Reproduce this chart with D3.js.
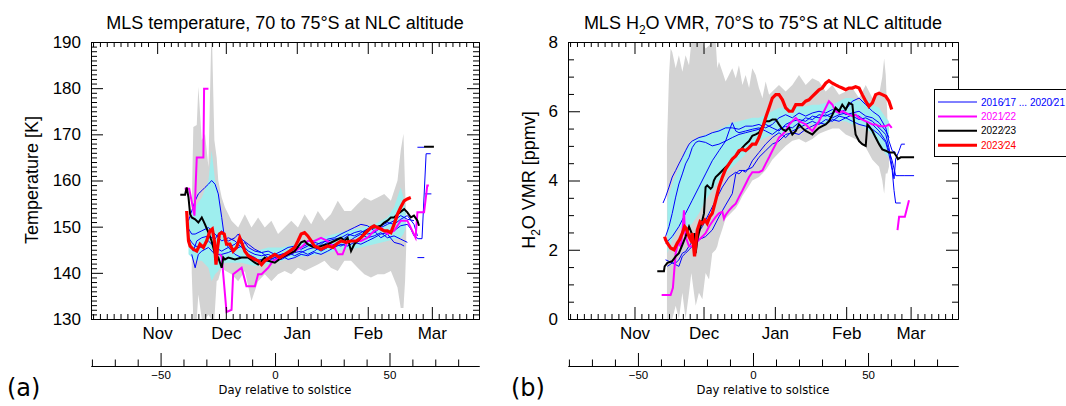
<!DOCTYPE html>
<html>
<head>
<meta charset="utf-8">
<script src="https://cdn.jsdelivr.net/npm/d3@7"></script>
<style>
  body { margin: 0; background: #fff; }
  svg text { font-family: "Liberation Sans", Arial, Helvetica, sans-serif; fill: #000; }
</style>
</head>
<body>
<svg id="canvas"></svg>
<script>
// all x values are days relative to solstice

// ---- panel (a): temperature [K] ----
// envelopes: [day, low, high]
const tGray = [
  [-36.4,140,154],[-35.7,130,171.6],[-34.2,130,172],[-33.5,135.3,180.3],[-32,130,168.7],[-30.6,130,170.1],
  [-29.1,130.9,162.9],[-27.9,130,190],[-27.5,130,190],[-26.5,130,168.7],[-25.5,138.2,165],[-24.8,138.5,160],
  [-23.3,141.1,156.3],[-21.9,140.5,154.2],[-19,139.7,151.3],[-16.1,138.2,149.8],[-13.2,140.4,152.7],
  [-10.3,133.9,149.8],[-7.4,138.2,152],[-4.5,139.7,149.8],[-1.6,138.2,151.3],[1.3,139.7,148.4],
  [4.2,140.4,149.8],[7.1,139.7,151.3],[10,141.1,149.8],[12.9,140.4,152.7],[15.8,141.1,150.5],
  [18.7,141.8,153.4],[21.6,142.6,151.3],[24.4,141.1,152.7],[27.4,140.4,155.6],[30.3,142.6,153.4],
  [33.2,142.6,153.4],[36.1,141.1,154.9],[39,139.7,156.3],[41.9,139,155.6],[44.8,139.7,156.3],
  [47.7,139.7,157.1],[50.6,140.4,155.6],[53.5,136.8,160],[54.9,132.4,166.5],[56.1,132.4,170.1],
  [56.8,138.2,158.5],[57.3,145.5,152]
];
const tCyan = [
  [-37.8,144,151.3],[-34.9,142.6,154.2],[-32,142.6,156.3],[-29.1,141.1,160],[-27.7,138.2,166.5],
  [-26.2,139.7,160],[-24.8,140.4,157.8],[-23.3,141.8,151.3],[-21.9,142.2,147.6],[-20.4,142.2,146.9],
  [-17.5,142.2,146.9],[-14.6,142.2,146.2],[-11.7,141.8,145.5],[-8.8,141.5,144.7],[-3,141.8,145.5],
  [2.8,142.6,145.5],[8.6,143.3,146.2],[14.3,143.7,146.9],[20.1,144,147.6],[25.9,144.7,148.4],
  [31.7,145.1,149.1],[37.5,145.5,149.8],[43.3,146.2,150.5],[49.1,146.9,152],[52,147.3,154.2],
  [54.9,147.6,158.5],[56.1,148.4,156.3],[57.1,149.8,152.7]
];
// lines: [day, value]; null breaks a line
const tBlue = [
  [[-37.8,151.3],[-36.4,153.4],[-34.9,155.6],[-33.5,157.1],[-32,157.8],[-30.6,158.5],[-29.1,159.2],[-27.7,160],
   [-26.2,159.2],[-24.8,157.1],[-23.3,152],[-21.9,146.9],[-20.4,145.5],[-17.5,144],[-14.6,143.3],[-11.7,143.3],
   [-8.8,142.6],[-5.9,142.9],[-3,143.3],[-0.1,143.7],[2.8,144],[5.7,144.4],[8.6,145.1],[11.4,145.5],[14.3,146.2],
   [17.2,145.8],[20.1,146.6],[23,146.9],[25.9,147.3],[28.8,147.6],[31.7,148.4],[34.6,148],[37.5,148.7],
   [40.4,149.5],[43.3,149.8],[46.2,150.2],[49.1,150.9],[52,150.5],[54.9,151.6],[57.8,152.4],[60.7,150.5],[62.2,148]],
  [[-38.6,150.2],[-36.4,148.4],[-34.9,148.4],[-32,149.1],[-29.1,149.8],[-26.2,148.4],[-23.3,146.9],[-20.4,147.6],
   [-17.5,146.9],[-14.6,145.5],[-11.7,144],[-8.8,143.3],[-5.9,142.2],[-3,142.6],[-0.1,143.3],[2.8,142.9],[5.7,143.7],
   [8.6,144.4],[11.4,144.7],[14.3,144],[17.2,144.7],[20.1,145.8],[23,146.6],[25.9,145.8],[28.8,146.9],[31.7,148],
   [34.6,148.7],[37.5,149.1],[40.4,148.4],[43.3,148.7],[46.2,149.8],[49.1,150.5],[52,151.3],[54.9,152.4],
   [57.8,151.6],[60.7,151.3]],
  [[-37.8,147.6],[-36.4,146.6],[-34.9,145.8],[-32,145.5],[-29.1,146.9],[-26.2,145.5],[-23.3,144.7],[-21.9,145.1],
   [-20.4,145.5],[-17.5,146.2],[-16.1,146.9],[-14.6,146.2],[-11.7,144.7],[-8.8,144],[-5.9,143.7],[-3,144],
   [-0.1,143.3],[2.8,144],[5.7,144.4],[8.6,143.7],[11.4,144.4],[14.3,145.1],[17.2,145.5],[20.1,144.7],[23,145.5],
   [25.9,146.2],[28.8,145.8],[31.7,146.6],[34.6,147.6],[37.5,148.4],[40.4,147.6],[43.3,148],[46.2,148.7],
   [49.1,147.6],[52,148],[54.9,147.3],[57.8,146.6]],
  [[-36.4,144],[-34.9,141.1],[-33.5,144],[-32,144.7],[-29.1,145.5],[-26.2,144],[-23.3,144],[-20.4,144.4],
   [-17.5,145.1],[-14.6,145.8],[-13.2,146.6],[-11.7,145.5],[-8.8,144.7],[-5.9,144.4],[-3,143.3],[-0.1,142.9],
   [2.8,143.7],[5.7,142.9],[8.6,143.3],[11.4,144],[14.3,143.7],[17.2,144.4],[20.1,144],[23,144.7],[25.9,145.5],
   [28.8,146.2],[31.7,145.8],[34.6,146.6],[37.5,146.2],[40.4,146.9],[43.3,147.6],[46.2,148.4],[49.1,148.7],
   [52,149.1],[54.9,150.2],[57.8,150.5],[59.3,149.5],[60.7,148],[62.5,147.4],[64.2,147.4],[66,165.8],[68,165.8]],
  [[-37.1,146.2],[-35.7,144.7],[-34.2,146.9],[-32,147.6],[-29.1,148],[-26.2,147.3],[-24.8,148.4],[-23.3,149.1],
   [-21.9,147.6],[-20.4,146.9],[-17.5,147.6],[-16.1,148.4],[-14.6,147.3],[-11.7,146.2],[-8.8,145.1],[-5.9,144.4],
   [-3,144.7],[-0.1,144],[2.8,144.7],[5.7,145.5],[8.6,145.8],[11.4,145.1],[14.3,145.8],[17.2,146.6],[20.1,146.2],
   [23,147.3],[25.9,147.6],[28.8,148.4],[31.7,149.1],[34.6,149.8],[37.5,150.5],[40.4,150.2],[43.3,149.1],
   [46.2,147.6],[49.1,148.4],[52,146.6],[54.9,146.2],[56.4,145.8]],
  [[62.2,167.2],[65.2,167.2],null,[62.2,143.3],[65.2,143.3],null,[65.5,157.1],[68.3,157.1]]
];
const tMag = [
  [-39.5,158.2],[-37.5,158.2],[-35.2,152.4],[-34.2,165],[-31.3,165],[-31,179.9],[-29.1,179.9],null,
  [-24.1,144],[-23.3,143.5],[-21.2,131.5],[-19,132],[-18.3,139.7],[-14.6,141.1],[-12.5,137.1],[-8.8,137.1],
  [-7.4,139.7],[-5.9,139.7],[-3,141.1],[-0.9,142.6],[2.8,143.3],[5.7,144],[8.6,144.7],[11.4,145.5],[14.3,146.9],
  [17.2,146.9],[20.1,147.6],[23,146.9],[25.9,145.5],[27.5,144],[29.5,144],[31.7,146.9],[34.6,146.9],[37.5,146.9],
  [40.4,147.6],[43.3,149.1],[46.2,149.8],[49.1,148.4],[52,149.1],[54.9,151.3],[57.8,151.3],[61.4,147.6],
  [62.2,153.1],[65.1,153.1],[66.5,158.9],[67.2,158.9]
];
const tBlack = [
  [-41.4,156.9],[-39.3,156.9],[-38.6,158.5],[-37.8,156.3],[-37.1,152.7],[-36.4,152],[-34.9,151.6],[-33.5,150.9],
  [-32,152],[-30.6,150.5],[-29.1,148.7],[-27.7,146.9],[-26.2,144],[-24.8,143.3],[-23.3,141.1],[-22.6,143.3],
  [-21.9,142.9],[-20.4,143.3],[-17.5,142.9],[-14.6,143.3],[-11.7,143.3],[-8.8,142.2],[-7.4,141.8],[-5.9,142.6],
  [-4.5,143.3],[-3,142.6],[-0.1,142.2],[2.8,143.3],[5.7,144],[8.6,144.7],[11.4,146.6],[12.9,146.9],[14.3,146.2],
  [15.8,145.8],[17.2,145.5],[20.1,145.8],[23,146.2],[25.9,146.9],[28.8,147.6],[30.3,146.9],[31.7,147.6],
  [33.2,144.7],[34.6,146.2],[37.5,147.6],[39,148.7],[41.9,149.8],[43.3,149.8],[46.2,150.2],[47.7,150.9],
  [49.1,151.3],[50.6,152],[52,152],[53.5,152.7],[56.4,153.8],[57.8,153.1],[59.3,152],[60.7,152.4],[62.2,151.3],
  [62.9,150.2],null,[65.1,167.3],[69.4,167.3]
];
const tRed = [
  [-38.6,153.4],[-38.2,149.8],[-37.8,146.9],[-37.1,145.8],[-35.7,145.1],[-34.2,144.7],[-32.8,146.2],[-31.3,145.5],
  [-29.9,146.9],[-28.4,149.1],[-27.4,149.5],[-26.5,146.9],[-25.8,141.8],[-25.1,145.5],[-24.3,148.4],[-23.3,148.7],
  [-22.2,148.4],[-21.2,146.2],[-19.7,146.2],[-18.3,144.7],[-16.8,145.5],[-15.4,147.6],[-14.3,146.2],[-13.2,144.7],
  [-11.7,143.7],[-10.3,143.3],[-8.8,142.9],[-7.4,142.6],[-5.9,141.8],[-4.5,142.6],[-2.3,143.3],[-0.1,144],
  [2,143.3],[4.2,144],[6.4,144.7],[8.6,145.5],[10,146.9],[11.4,148.4],[12.9,148.7],[14.3,148],[15.8,146.9],
  [17.2,145.8],[18.7,145.5],[20.1,145.1],[21.6,145.5],[23,145.8],[25.2,145.5],[26.7,146.2],[28.8,146.9],
  [31,146.6],[33.2,146.9],[35.4,146.9],[37.5,147.6],[39.7,148.7],[41.9,149.8],[43.3,150.2],[44.8,149.8],
  [46.2,149.5],[47.7,149.1],[49.1,149.1],[50.6,148.7],[52,150.5],[53.5,152.7],[54.9,154.2],[56.4,155.6],
  [57.8,156],[59.3,156.3]
];

// ---- panel (b): H2O VMR [ppmv] ----
const hGray = [
  [-37.4,0,5],[-36.5,0,7.05],[-35.8,0,7.81],[-35.1,0,7.71],[-33.6,0.38,7.24],[-32.2,0,7.62],[-30.7,0.76,7.14],
  [-29.3,0,7.62],[-27.8,0.76,7.33],[-26.8,1.33,8],[-24.9,0.38,8],[-23.5,0.76,8],[-22,0.57,8],[-20.6,1.33,7.81],
  [-19.1,1.14,7.9],[-17.7,1.9,8],[-16.2,2,8],[-15.5,2.1,7.24],[-14.8,2.3,7.43],[-13.3,2.6,7.14],[-11.9,2.9,6.86],
  [-9,3.1,7.24],[-7.5,3.2,6.95],[-6.1,3.35,7.33],[-4.6,3.55,6.76],[-3.2,3.7,7.05],[-1.7,3.85,6.67],[-0.3,4,7.24],
  [1.2,4.05,7.05],[2.6,4.1,6.67],[4.1,4.2,6.38],[5.5,4.3,6.86],[7,4.45,6.48],[8.4,4.6,6.57],[11.3,4.8,6.76],
  [14.2,5,6.57],[17.1,5.15,6.76],[20,5.2,7.05],[22.9,5.1,6.76],[25.8,5.2,6.95],[28.7,5.35,6.86],[31.6,5.43,6.57],
  [34.5,5.5,6.76],[37.4,5.5,6.48],[40.3,5.33,6.57],[43.2,5.24,6.67],[46.1,5.14,6.38],[49,4.95,6.76],
  [51.9,4.6,6.38],[54.8,4.4,6.48],[56.2,4,7],[57,3.62,7.52],[57.7,4.2,7.05],[58.4,4.2,5.8],[59.1,4.4,5]
];
const hCyan = [
  [-37.2,1.9,3.43],[-35.1,2.29,3.9],[-32.2,2.67,4.38],[-29.3,2.57,4.86],[-26.4,2.76,5.14],[-23.5,3.05,5.24],
  [-20.6,3.43,5.33],[-17.7,3.71,5.38],[-14.8,4,5.48],[-11.9,4.19,5.57],[-9,4.38,5.67],[-6.1,4.57,5.71],
  [-3.2,4.76,5.76],[-0.3,4.95,5.81],[2.6,5.14,5.81],[5.5,5.24,5.9],[8.4,5.33,6],[11.3,5.33,6.1],[14.2,5.43,6.1],
  [17.1,5.43,6.1],[20,5.52,6.14],[22.9,5.62,6.14],[25.8,5.62,6.19],[28.7,5.62,6.19],[31.6,5.62,6.24],
  [34.5,5.71,6.19],[37.4,5.71,6.29],[40.3,5.71,6.38],[43.2,5.62,6.38],[46.1,5.62,6.29],[49,5.52,6.38],
  [51.9,5.33,6.19],[54.8,5.05,6.1],[57.7,4.76,5.81],[59.1,4.67,5.71]
];
const hBlue = [
  [[-39.1,3.35],[-38,3.52],[-36.5,3.81],[-35.1,4.1],[-33.6,4.29],[-32.2,4.48],[-30.7,4.67],[-29.3,4.86],[-27.8,5.05],
   [-26.4,5.14],[-23.5,5.24],[-20.6,5.29],[-17.7,5.38],[-14.8,5.43],[-11.9,5.52],[-9,5.52],[-6.1,5.48],[-3.2,5.57],
   [-0.3,5.57],[2.6,5.62],[5.5,5.52],[8.4,5.62],[11.3,5.81],[14.2,5.9],[17.1,5.81],[20,5.95],[22.9,5.86],
   [25.8,5.95],[28.7,6],[31.6,5.95],[34.5,6.05],[37.4,5.95],[40.3,6.05],[43.2,6.29],[46.1,6.38],[49,6.19],
   [51.9,6],[54.8,5.86],[57.7,5.52],[59.1,5.14],[60.5,4.86],[62,4.81]],
  [[-38,2.38],[-36.5,2.67],[-35.1,3.05],[-33.6,3.52],[-32.2,3.9],[-30.7,4.19],[-29.3,4.48],[-27.8,4.67],[-26.4,4.95],
   [-24.9,5.1],[-23.5,5.14],[-20.6,5.1],[-17.7,5],[-14.8,5.05],[-11.9,5.14],[-9,5.24],[-6.1,5.33],[-3.2,5.38],
   [-0.3,5.43],[2.6,5.48],[5.5,5.62],[8.4,5.52],[11.3,5.43],[14.2,5.62],[17.1,5.71],[20,5.76],[22.9,5.71],
   [25.8,5.86],[28.7,5.81],[31.6,5.9],[34.5,5.81],[37.4,5.9],[40.3,5.95],[43.2,5.86],[46.1,5.76],[49,5.81],
   [51.9,5.71],[54.8,5.52],[57.7,5.33],[59.1,4.95],[60.5,4.38],[61.3,4.05],[62,4.62],[63.5,4.86],[64.5,5.05],[66,5.05]],
  [[-38,2.19],[-35.1,2.38],[-32.2,2.67],[-29.3,3.05],[-26.4,3.43],[-23.5,3.81],[-20.6,4.19],[-17.7,4.57],
   [-14.8,4.86],[-11.9,5.14],[-10.4,5.43],[-9,5.67],[-7.5,5.43],[-6.1,5.38],[-3.2,5.43],[-0.3,5.48],[2.6,5.52],
   [5.5,5.43],[8.4,5.33],[11.3,5.48],[14.2,5.57],[17.1,5.52],[20,5.67],[22.9,5.81],[25.8,5.76],[28.7,5.9],
   [31.6,5.86],[34.5,5.95],[37.4,6.05],[40.3,5.9],[43.2,5.95],[46.1,6],[49,5.86],[51.9,5.81],[54.8,5.67],
   [57.7,5.43],[59.1,5.24]],
  [[-38,1.71],[-35.1,1.62],[-33.6,1.62],[-32.2,1.71],[-30.7,1.9],[-29.3,1.95],[-27.8,2.1],[-24.9,2.38],[-22,2.67],
   [-19.1,3.05],[-16.2,3.43],[-13.3,3.81],[-10.4,4.1],[-7.5,4.24],[-6.1,4.19],[-4.6,4.29],[-3.2,4.24],[-1.7,4.38],
   [-0.3,4.57],[2.6,4.81],[5.5,5.05],[8.4,5.24],[11.3,5.38],[14.2,5.24],[17.1,5.43],[20,5.52],[22.9,5.62],
   [25.8,5.71],[28.7,5.62],[31.6,5.76],[34.5,5.71],[37.4,5.86],[40.3,5.81],[43.2,5.71],[46.1,5.62],[49,5.57],
   [51.9,5.48],[54.8,5.33],[57.7,5.1],[59.1,4.76],[60.5,4.29],[61.3,3.71],[62,3.35],[64.2,3.35]],
  [[-37.2,1.52],[-35.1,1.62],[-32.2,1.52],[-30.7,1.81],[-29.3,1.9],[-27.8,2],[-26.4,2.1],[-23.5,2.29],[-20.6,2.38],
   [-17.7,2.57],[-14.8,2.95],[-11.9,3.29],[-9,3.62],[-7.5,4.19],[-6.1,4.29],[-3.2,4.29],[-0.3,4.38],[2.6,4.67],
   [5.5,4.86],[8.4,5.05],[11.3,5.14],[14.2,5.33],[17.1,5.38],[20,5.33],[22.9,5.48],[25.8,5.57],[28.7,5.67],
   [31.6,5.62],[34.5,5.76],[37.4,5.71],[40.3,5.81],[43.2,5.9],[46.1,5.86],[49,5.71],[51.9,5.62],[54.8,5.43],
   [57.7,5.14],[59.1,4.86],[60.5,4.57],[62,4.14],[63.5,4.14],[66,4.14],[70,4.14]]
];
const hMag = [
  [-39.7,0.69],[-35.8,0.69],[-34.8,0.9],[-34.3,1.33],[-33.6,1.9],[-32.9,2.1],[-32.2,2.19],[-31.4,2.1],[-30.7,2.48],
  [-30,3.14],[-29.7,2.67],[-29.3,2.38],[-27.8,2.1],[-26.4,2.1],[-24.9,2.19],[-23.5,2.29],[-22,2.38],[-20.6,2.48],
  [-19.1,2.67],[-17.7,2.81],[-16.2,2.95],[-14.8,3.05],[-13.3,3.1],[-12.6,2.9],[-11.9,3],[-10.4,3.14],[-9,3.24],
  [-7.5,3.33],[-6.1,3.52],[-4.6,3.71],[-3.2,3.9],[-1.7,4.1],[-0.3,4.24],[1.2,4.24],[2.6,4.24],[4.1,4.29],
  [5.5,4.48],[7,4.67],[8.4,4.86],[9.9,5.05],[11.3,5.24],[12.8,5.33],[14.2,5.43],[15.7,5.62],[17.1,5.71],
  [18.6,5.81],[20,5.71],[21.4,5.67],[22.9,5.62],[24.3,5.52],[25.8,5.43],[27.2,5.57],[28.7,5.71],[30.1,5.9],
  [31.6,6.1],[33,6.29],[34.5,6.19],[35.9,6],[37.4,5.95],[38.8,6],[40.3,5.95],[41.7,5.9],[43.2,5.86],[44.6,5.9],
  [46.1,5.81],[47.5,5.76],[49,5.71],[50.4,5.67],[51.9,5.62],[53.3,5.62],[54.8,5.57],[56.2,5.57],[57.7,5.57],
  [59.1,5.62],[60.3,5.52],null,[62.8,2.57],[63.5,2.95],[66,2.95],[67.8,3.43]
];
const hBlack = [
  [-41.6,1.38],[-38.7,1.38],[-38.4,1.52],[-37.2,1.62],[-35.1,1.67],[-33.6,1.81],[-32.2,1.9],[-30.7,2.14],
  [-29.3,2.38],[-27.8,2.67],[-26.7,2.48],[-25.9,2.29],[-25.4,2.48],[-24.9,1.9],[-24.2,2.29],[-23.5,2.48],
  [-22.8,2.67],[-22,2.86],[-21.3,3.05],[-20.6,3.81],[-19.9,3.86],[-18.4,3.76],[-17.7,3.81],[-17,4],[-16.2,4.1],
  [-14.8,4.19],[-13.3,4.29],[-11.9,4.38],[-10.4,4.48],[-9,4.62],[-7.5,4.71],[-6.1,4.81],[-4.6,4.95],[-3.2,5.05],
  [-1.7,5.14],[-0.3,5.29],[1.2,5.33],[2.6,5.38],[4.1,5.57],[5.5,5.71],[7,5.71],[8.4,5.76],[9.9,5.76],[11.3,5.62],
  [12.8,5.48],[14.2,5.43],[15.7,5.52],[17.1,5.33],[18.6,5.43],[20,5.62],[21.4,5.52],[22.9,5.43],[24.3,5.38],
  [25.8,5.33],[27.2,5.43],[28.7,5.52],[30.1,5.57],[31.6,5.62],[33,5.71],[34.5,5.9],[35.9,6.1],[37.4,6],
  [38.8,6.19],[40.3,6.05],[41.7,6.24],[43.2,6.19],[43.9,5.71],[44.6,5.33],[46.1,5.14],[47.5,5.05],[49,5],
  [49.7,5.62],[50.4,5.57],[51.9,5.43],[53.3,5.24],[54.8,5.05],[56.2,4.9],[57.7,4.86],[59.1,4.81],[61.3,4.81],
  [62.3,4.71],[63,4.62],[64.2,4.67],[70,4.67]
];
const hRed = [
  [-38.4,2.38],[-38,2.29],[-37.2,2.19],[-35.8,2.05],[-34.3,2],[-32.9,2.19],[-31.9,2.29],[-30.7,2.48],[-29.7,2.67],
  [-29,2.62],[-27.8,2.38],[-27.1,2.29],[-26.4,2.48],[-25.4,1.81],[-24.9,2.1],[-24.2,2.57],[-23,2.81],[-22,2.76],
  [-20.9,2.86],[-19.9,2.76],[-18.8,2.95],[-17.7,3.05],[-16.2,3.43],[-14.8,3.81],[-13.3,4.1],[-11.9,4.33],
  [-10.4,4.48],[-9,4.62],[-7.5,4.71],[-6.1,4.86],[-4.6,4.9],[-3.2,4.86],[-1.7,4.95],[-0.3,5.05],[1.2,5.05],
  [2.6,5.24],[4.1,5.52],[5.5,5.81],[7,6.1],[8.4,6.38],[9.9,6.48],[11.3,6.48],[12.8,6.33],[14.2,6.1],[15.7,6],
  [17.1,6],[18.6,6.19],[20,6.19],[21.4,6.19],[22.9,6.29],[24.3,6.33],[25.8,6.43],[27.2,6.52],[28.7,6.62],
  [30.1,6.67],[31.6,6.81],[33,6.88],[34.5,6.81],[35.9,6.76],[37.4,6.71],[38.8,6.67],[40.3,6.62],[41.7,6.67],
  [43.2,6.67],[44.6,6.71],[46.1,6.67],[47.5,6.48],[49,6.29],[50.4,6.14],[51.9,6.24],[53.3,6.48],[54.8,6.52],
  [56.2,6.48],[57.7,6.43],[59.1,6.29],[60.3,6.05]
];

// axis labels and ticks
const calNames = ['', 'Nov', 'Dec', 'Jan', 'Feb', 'Mar'];
const calStart = [-82.5, -51.5, -21.5, 9.5, 40.5, 68.5];
const calLen = [31, 30, 31, 31, 28, 31];
const tMajor = [130, 140, 150, 160, 170, 180, 190];
const hMajor = [0, 2, 4, 6, 8];
const dayMajor = [-50, 0, 50];
const dayMinor = [-80, -70, -60, -40, -30, -20, -10, 10, 20, 30, 40, 60, 70, 80];
const legendLabels = ['2016\u204417 ... 2020\u204421', '2021\u204422', '2022\u204423', '2023\u204424'];
const legendColors = ['#0000ff', '#ff00ff', '#000000', '#ff0000'];
const legendWidths = [1, 2, 2, 3];

const width = 1066;
const height = 406;
const plotTop = 42;
const plotBottom = 319;
const dayDomain = [-80.4, 89.1];
const sansFont = '"Liberation Sans", Arial, sans-serif';
const dejaFont = '"DejaVu Sans", sans-serif';

const svg = d3.select('#canvas').attr('width', width).attr('height', height);

let calMinor = [];
calStart.forEach((s, i) => {
  for (let k = 3; k < calLen[i] - 1.5; k += 3) calMinor.push(s + k);
});
calMinor = calMinor.filter(d => d > dayDomain[0] && d < dayDomain[1]);
const calMajor = calStart.filter(d => d > dayDomain[0] && d < dayDomain[1]);

let styleAxis = (g, fontSize, family) => {
  g.selectAll('.domain').attr('stroke', '#000');
  g.selectAll('.tick line').attr('stroke', '#000');
  g.selectAll('.tick text').attr('font-size', fontSize)
    .attr('font-family', family || sansFont).attr('fill', '#000');
};

let drawPanel = (p) => {
  const x = d3.scaleLinear().domain(dayDomain).range([p.x0, p.x1]);
  const y = d3.scaleLinear().domain(p.yDomain).range([plotBottom, plotTop]);
  const g = svg.append('g');

  g.append('clipPath').attr('id', p.id + '-clip')
    .append('rect').attr('x', p.x0).attr('y', plotTop)
    .attr('width', p.x1 - p.x0).attr('height', plotBottom - plotTop);
  const data = g.append('g').attr('clip-path', `url(#${p.id}-clip)`);

  const area = d3.area().x(d => x(d[0])).y0(d => y(d[1])).y1(d => y(d[2]));
  const line = d3.line().defined(d => d !== null).x(d => x(d[0])).y(d => y(d[1]));

  data.append('path').attr('d', area(p.gray)).attr('fill', '#d3d3d3');
  data.append('path').attr('d', area(p.cyan)).attr('fill', '#9eeeee');
  p.blue.forEach(s => {
    data.append('path').attr('d', line(s)).attr('fill', 'none')
      .attr('stroke', '#0000ff').attr('stroke-width', 1);
  });
  data.append('path').attr('d', line(p.mag)).attr('fill', 'none')
    .attr('stroke', '#ff00ff').attr('stroke-width', 2);
  data.append('path').attr('d', line(p.black)).attr('fill', 'none')
    .attr('stroke', '#000').attr('stroke-width', 2);
  data.append('path').attr('d', line(p.red)).attr('fill', 'none')
    .attr('stroke', '#ff0000').attr('stroke-width', 3.2);

  // box axes: majors and minors, ticks inward
  const fmtCal = d => calNames[calStart.indexOf(d)];
  g.append('g').attr('transform', `translate(0,${plotBottom})`)
    .call(d3.axisBottom(x).tickValues(calMajor).tickFormat(fmtCal).tickSizeInner(-12).tickSizeOuter(0).tickPadding(8))
    .call(a => styleAxis(a, 17));
  g.append('g').attr('transform', `translate(0,${plotBottom})`)
    .call(d3.axisBottom(x).tickValues(calMinor).tickFormat('').tickSizeInner(-5).tickSizeOuter(0))
    .call(a => styleAxis(a, 17));
  g.append('g').attr('transform', `translate(0,${plotTop})`)
    .call(d3.axisTop(x).tickValues(calMajor).tickFormat('').tickSizeInner(-12).tickSizeOuter(0))
    .call(a => styleAxis(a, 17));
  g.append('g').attr('transform', `translate(0,${plotTop})`)
    .call(d3.axisTop(x).tickValues(calMinor).tickFormat('').tickSizeInner(-5).tickSizeOuter(0))
    .call(a => styleAxis(a, 17));

  g.append('g').attr('transform', `translate(${p.x0},0)`)
    .call(d3.axisLeft(y).tickValues(p.yMajor).tickFormat(d3.format('d')).tickSizeInner(-12).tickSizeOuter(0).tickPadding(10))
    .call(a => styleAxis(a, 17));
  g.append('g').attr('transform', `translate(${p.x0},0)`)
    .call(d3.axisLeft(y).tickValues(p.yMinor).tickFormat('').tickSizeInner(-6).tickSizeOuter(0))
    .call(a => styleAxis(a, 17));
  g.append('g').attr('transform', `translate(${p.x1},0)`)
    .call(d3.axisRight(y).tickValues(p.yMajor).tickFormat('').tickSizeInner(-12).tickSizeOuter(0))
    .call(a => styleAxis(a, 17));
  g.append('g').attr('transform', `translate(${p.x1},0)`)
    .call(d3.axisRight(y).tickValues(p.yMinor).tickFormat('').tickSizeInner(-6).tickSizeOuter(0))
    .call(a => styleAxis(a, 17));

  // day-relative-to-solstice axis
  g.append('g').attr('transform', 'translate(0,366)')
    .call(d3.axisBottom(x).tickValues(dayMajor).tickFormat(d3.format('d')).tickSizeInner(-13).tickSizeOuter(0).tickPadding(5))
    .call(a => styleAxis(a, 11.5, dejaFont));
  g.append('g').attr('transform', 'translate(0,366)')
    .call(d3.axisBottom(x).tickValues(dayMinor).tickFormat('').tickSizeInner(-6.5).tickSizeOuter(0))
    .call(a => styleAxis(a, 11.5, dejaFont));
  g.append('text').attr('x', (p.x0 + p.x1) / 2).attr('y', 394)
    .attr('text-anchor', 'middle').attr('font-size', 11.6)
    .style('font-family', dejaFont).text('Day relative to solstice');

  // title and y label
  const title = g.append('text').attr('x', (p.x0 + p.x1) / 2).attr('y', 29)
    .attr('text-anchor', 'middle').attr('font-size', 18);
  p.title(title);
  const ylab = g.append('text').attr('transform', `translate(${p.yLabelX},180) rotate(-90)`)
    .attr('text-anchor', 'middle').attr('font-size', 18);
  p.ylabel(ylab);

  g.append('text').attr('x', p.tagX).attr('y', 396).attr('font-size', 24)
    .style('font-family', dejaFont).text(p.tag);
};

drawPanel({
  id: 'temp', x0: 91, x1: 479, yDomain: [130, 190],
  yMajor: tMajor, yMinor: d3.range(130, 191).filter(v => v % 10 !== 0),
  gray: tGray, cyan: tCyan, blue: tBlue, mag: tMag, black: tBlack, red: tRed,
  title: t => t.text('MLS temperature, 70 to 75°S at NLC altitude'),
  ylabel: t => t.text('Temperature [K]'),
  yLabelX: 38, tag: '(a)', tagX: 7
});

drawPanel({
  id: 'h2o', x0: 568, x1: 958, yDomain: [0, 8],
  yMajor: hMajor, yMinor: d3.range(0.5, 8, 0.5).filter(v => v % 2 !== 0),
  gray: hGray, cyan: hCyan, blue: hBlue, mag: hMag, black: hBlack, red: hRed,
  title: t => {
    t.append('tspan').text('MLS H');
    t.append('tspan').attr('dy', 5).attr('font-size', 12).text('2');
    t.append('tspan').attr('dy', -5).text('O VMR, 70°S to 75°S at NLC altitude');
  },
  ylabel: t => {
    t.append('tspan').text('H');
    t.append('tspan').attr('dy', 5).attr('font-size', 12).text('2');
    t.append('tspan').attr('dy', -5).text('O VMR [ppmv]');
  },
  yLabelX: 535, tag: '(b)', tagX: 511
});

// legend
const legend = svg.append('g');
legend.append('rect').attr('x', 934.5).attr('y', 89.5).attr('width', 140).attr('height', 67)
  .attr('fill', '#fff').attr('stroke', '#000');
legendLabels.forEach((label, i) => {
  const ly = 102 + i * 14.4;
  legend.append('line').attr('x1', 938).attr('x2', 977).attr('y1', ly).attr('y2', ly)
    .attr('stroke', legendColors[i]).attr('stroke-width', legendWidths[i]);
  legend.append('text').attr('x', 981).attr('y', ly + 3.6).attr('font-size', 10)
    .style('fill', legendColors[i]).text(label);
});
</script>
</body>
</html>
